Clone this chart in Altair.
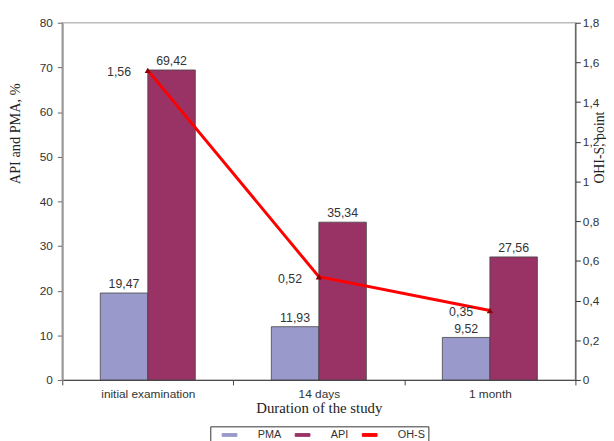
import altair as alt
import pandas as pd

categories = ["initial examination", "14 days", "1 month"]
pma = [19.47, 11.93, 9.52]
api = [69.42, 35.34, 27.56]
ohs = [1.56, 0.52, 0.35]
series_names = ["PMA", "API", "OH-S"]
series_colors = ["#9999cc", "#993366", "#ff0000"]

def lab(v):
    return f"{v:.2f}".replace(".", ",")

bars = []
for c, p, a in zip(categories, pma, api):
    bars.append({"cat": c, "series": "PMA", "value": p, "label": lab(p)})
    bars.append({"cat": c, "series": "API", "value": a, "label": lab(a)})
bar_df = pd.DataFrame(bars)
line_df = pd.DataFrame({"cat": categories, "value": ohs,
                        "label": [lab(v) for v in ohs], "series": ["OH-S"] * 3})

FONT = "Liberation Sans"
SERIF = "Liberation Serif"

x_enc = alt.X("cat:N", sort=categories,
              scale=alt.Scale(paddingInner=0, paddingOuter=0),
              axis=alt.Axis(title="Duration of the study", labelAngle=0,
                            tickBand="extent", titleFont=SERIF, titleFontSize=15,
                            titleFontWeight="normal", titleColor="#222",
                            labelFont=FONT, labelFontSize=12, labelColor="#333",
                            domainColor="#444", tickColor="#444", labelPadding=4,
                            titlePadding=1))
color_enc = alt.Color("series:N",
                      scale=alt.Scale(domain=series_names, range=series_colors),
                      legend=alt.Legend(title=None, orient="none", direction="horizontal",
                                        legendX=150, legendY=409,
                                        strokeColor="#333", padding=3,
                                        labelFont=FONT, labelFontSize=11, labelColor="#333",
                                        symbolType="M0.7,-0.28L3.7,-0.28L3.7,0.28L0.7,0.28Z",
                                        symbolSize=100, symbolStrokeWidth=1,
                                        columnPadding=5, labelOffset=34))

y_left = alt.Y("value:Q", scale=alt.Scale(domain=[0, 80]),
               axis=alt.Axis(title="API and PMA, %", values=list(range(0, 81, 10)),
                             grid=False, titleFont=SERIF, titleFontSize=14.5,
                             titleFontWeight="normal", titleColor="#222",
                             labelFont=FONT, labelFontSize=12, labelColor="#333",
                             domainColor="#999", domainWidth=2, tickColor="#666",
                             labelPadding=5, titleY=112, titleX=-40))

bar_layer = alt.Chart(bar_df).mark_bar(stroke="#444", strokeWidth=0.8).encode(
    x=x_enc,
    xOffset=alt.XOffset("series:N", sort=["PMA", "API"],
                        scale=alt.Scale(paddingOuter=0.8, paddingInner=0)),
    y=y_left,
    color=color_enc,
)
bar_text = alt.Chart(bar_df).mark_text(dy=-9, font=FONT, fontSize=12.5, color="#333").encode(
    x=alt.X("cat:N", sort=categories),
    xOffset=alt.XOffset("series:N", sort=["PMA", "API"]),
    y="value:Q",
    text="label:N",
)
left = alt.layer(bar_layer, bar_text)

y_right = alt.Y("value:Q", scale=alt.Scale(domain=[0, 1.8]),
                axis=alt.Axis(title="OHI-S, point", orient="right",
                              values=[0, 0.2, 0.4, 0.6, 0.8, 1, 1.2, 1.4, 1.6, 1.8],
                              labelExpr="replace(format(datum.value, '.1~f'), '.', ',')",
                              grid=False, titleFont=SERIF, titleFontSize=14,
                              titleFontWeight="normal", titleColor="#222", titleAngle=-90,
                              labelFont=FONT, labelFontSize=12, labelColor="#333",
                              domainColor="#333", tickColor="#333",
                              titleY=126, titleX=31))

line_layer = alt.Chart(line_df).mark_line(strokeWidth=3).encode(
    x=alt.X("cat:N", sort=categories), y=y_right, color=color_enc)
pts = alt.Chart(line_df).mark_point(shape="triangle-up", filled=True, size=40,
                                    color="#8b0000", opacity=1).encode(
    x=alt.X("cat:N", sort=categories), y="value:Q")
line_text = alt.Chart(line_df).mark_text(align="right", dx=-17, dy=2, font=FONT,
                                         fontSize=12.5, color="#333").encode(
    x=alt.X("cat:N", sort=categories), y="value:Q", text="label:N")
right = alt.layer(line_layer, pts, line_text)

chart = alt.layer(left, right).resolve_scale(y="independent").properties(
    width=520, height=362,
    padding={"left": 0, "top": 6, "right": 0, "bottom": 0},
).configure_view(stroke="#bbbbbb", strokeWidth=1.5)

chart.save("out.html", embed_options={"renderer": "svg", "actions": False})
